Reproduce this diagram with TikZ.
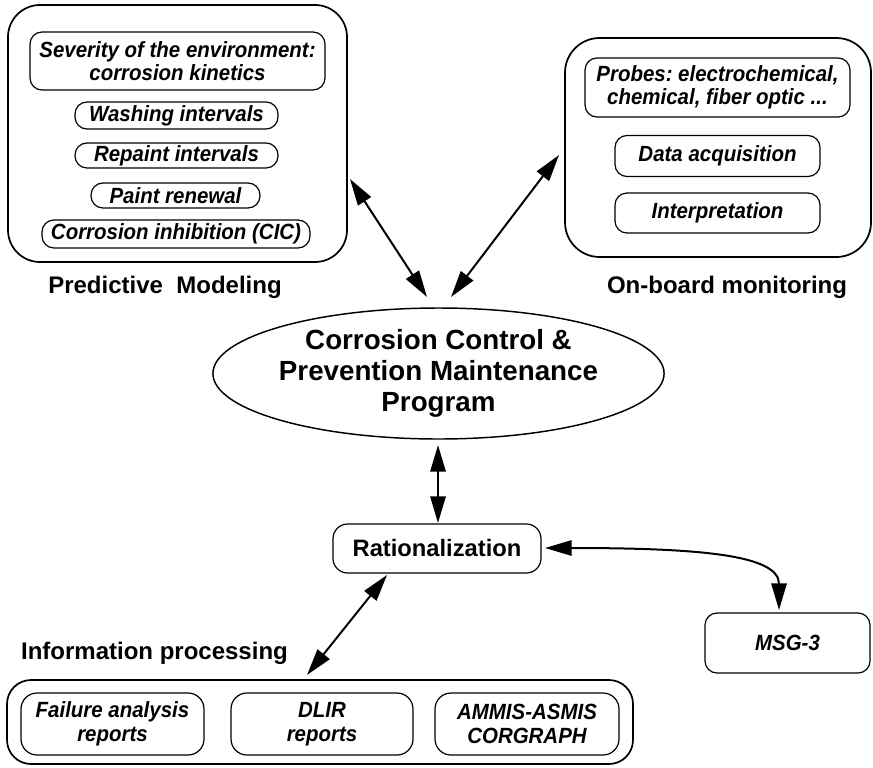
\documentclass[tikz,border=0pt]{standalone}
\usepackage{fontspec}
\setmainfont{Liberation Sans}
\newfontfamily\itemfont{Liberation Sans}[FakeStretch=0.93]
\usetikzlibrary{shapes.geometric,arrows.meta}
\frenchspacing
\def\pxu{0.75pt}
\tikzset{
  wh/.style 2 args={minimum width=#1*\pxu, minimum height=#2*\pxu},
  outerbox/.style={draw, line width=1.3pt, rounded corners=24pt, inner sep=0pt},
  itembox/.style={draw, line width=0.9pt, rounded corners=9pt, inner sep=0pt, align=center,
     font=\itemfont\fontsize{16.5}{17.6}\selectfont\bfseries\itshape},
  lbl/.style={font=\fontsize{18}{20}\selectfont\bfseries, inner sep=0pt},
  dbl/.style={line width=1.5pt, {Triangle[length=20pt,width=11.5pt]}-{Triangle[length=20pt,width=11.5pt]}},
}
\begin{document}
\begin{tikzpicture}[x=0.75pt, y=-0.75pt]
\useasboundingbox (0,0) rectangle (873,767);
% Predictive modeling
\node[outerbox, wh={339}{257}] (pmbox) at (177.5,133.5) {};
\node[itembox, wh={295}{58}] (sev) at (177.5,61) {Severity of the environment:\\corrosion kinetics};
\node[itembox, wh={203}{27}] (wash) at (176.5,115.5) {Washing intervals};
\node[itembox, wh={203}{25}] (rep) at (176.5,155.5) {Repaint intervals};
\node[itembox, wh={169}{25}] (paint) at (175.5,195.5) {Paint renewal};
\node[itembox, wh={268}{28}] (cic) at (176,234) {Corrosion inhibition (CIC)};
\node[lbl] (pml) at (165,287) {Predictive\ \ Modeling};
% On-board monitoring
\node[outerbox, rounded corners=26pt, wh={306}{219}] (obbox) at (718,147.5) {};
\node[itembox, wh={265}{59}] (probes) at (717.5,87.5) {Probes: electrochemical,\\chemical, fiber optic ...};
\node[itembox, wh={205}{41}] (data) at (717.5,156) {Data acquisition};
\node[itembox, wh={205}{40}] (interp) at (717.5,213) {Interpretation};
\node[lbl] (obl) at (727,287) {On-board monitoring};
% Central ellipse
\node[draw, line width=1.1pt, ellipse, inner sep=0pt, wh={447}{131}, align=center,
      font=\fontsize{20.8}{23.5}\selectfont\bfseries] (cc) at (438.5,373.5)
      {Corrosion Control \&\\Prevention Maintenance\\Program};
% Rationalization and MSG-3
\node[draw, line width=0.9pt, rounded corners=11pt, inner sep=0pt, wh={208}{49},
      font=\fontsize{17.8}{20}\selectfont\bfseries] (rat) at (437,548.5) {Rationalization};
\node[itembox, wh={165}{60}] (msg) at (787.5,643) {MSG-3};
% Information processing
\node[lbl] (ipl) at (154.5,653) {Information processing};
\node[outerbox, rounded corners=18pt, wh={626}{84}] (ipbox) at (320,722) {};
\node[itembox, rounded corners=12pt, wh={183}{62}] (fail) at (112.5,724) {Failure analysis\\reports};
\node[itembox, rounded corners=12pt, wh={182}{62}] (dlir) at (322,724) {DLIR\\reports};
\node[itembox, rounded corners=12pt, wh={184}{62}] (ammis) at (527,724) {AMMIS-ASMIS\\CORGRAPH};
% connector ends
\coordinate (pmEnd) at (350,179);
\coordinate (ccL) at (427,297);
\coordinate (obEnd) at (559,155);
\coordinate (ccR) at (451,297);
\coordinate (ccB) at (438,445);
\coordinate (ratT) at (438,523);
\coordinate (ratBL) at (387,575);
\coordinate (ipEnd) at (307,675);
\coordinate (ratR) at (545,548);
\coordinate (msgT) at (779,610);
% connectors
\draw[dbl] (pmEnd) -- (ccL);
\draw[dbl] (obEnd) -- (ccR);
\draw[dbl] (ccB) -- (ratT);
\draw[dbl] (ratBL) -- (ipEnd);
\draw[dbl] (ratR) .. controls (700,548) and (779,555) .. (msgT);
\end{tikzpicture}
\end{document}
